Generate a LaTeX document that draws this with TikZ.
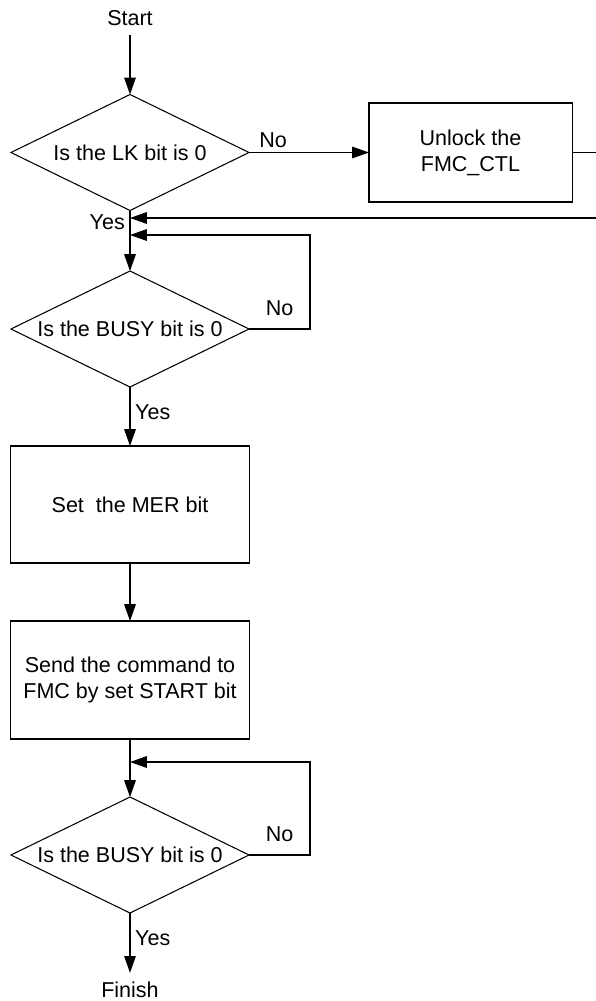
\documentclass[tikz,border=0pt]{standalone}
\usepackage{fontspec}
\setmainfont{Liberation Sans}
\usepackage{tikz}
\usetikzlibrary{arrows.meta, shapes.geometric, positioning}

\begin{document}
\begin{tikzpicture}[x=0.025cm, y=-0.025cm,
  decision/.style={diamond, aspect=2.05, draw=black, line width=0.75pt, inner sep=0pt, outer sep=0pt,
                   minimum width=5.95cm, minimum height=2.9cm, font=\fontsize{15.3pt}{18.5pt}\selectfont},
  box/.style={rectangle, draw=black, line width=0.75pt, outer sep=0pt, align=center,
              minimum width=5.975cm, font=\fontsize{15.3pt}{18.5pt}\selectfont},
  term/.style={inner sep=6.4pt, font=\fontsize{15.3pt}{18.5pt}\selectfont},
  lbl/.style={font=\fontsize{15.3pt}{18.5pt}\selectfont},
  arr/.style={-{Triangle[length=0.42cm, width=0.29cm]}, line width=0.75pt}]

  \useasboundingbox (0,0) rectangle (595,1001);

  \node[term] (start) at (130,18) {Start};

  \node[decision] (lk) at (130,152.5) {Is the LK bit is 0};

  \node[box, minimum width=5.075cm, minimum height=2.475cm] (unlock) at (470.5,152.5)
    {Unlock the\\FMC\_CTL};

  \node[decision] (busy1) at (130,329) {Is the BUSY bit is 0};

  \node[box, minimum height=2.925cm] (mer) at (130,504.5) {Set~ the MER bit};

  \node[box, minimum height=2.95cm] (send) at (130,680)
    {Send the command to\\FMC by set START bit};

  \node[decision] (busy2) at (130,855) {Is the BUSY bit is 0};

  \node[term] (finish) at (130,990) {Finish};

  \coordinate (edge) at (598,0);
  \coordinate (ret)  at (130,218);
  \coordinate (lp1)  at (130,235);
  \coordinate (lp1r) at (310,235);
  \coordinate (lp2)  at (130,762);
  \coordinate (lp2r) at (310,762);

  \draw[arr] (start.south) -- (lk.north);
  \draw[arr] (lk.east) -- node[lbl, pos=0.2, above] {No} (unlock.west);
  \draw[arr] (unlock.east) -- (unlock.east -| edge) |- (ret);
  \draw[arr] (lk.south) -- node[lbl, pos=0.2, left] {Yes} (busy1.north);
  \draw[arr] (busy1.east) -- node[lbl, above=0.2cm] {No} (busy1.east -| lp1r) |- (lp1);
  \draw[arr] (busy1.south) -- node[lbl, pos=0.42, right] {Yes} (mer.north);
  \draw[arr] (mer.south) -- (send.north);
  \draw[arr] (send.south) -- (busy2.north);
  \draw[arr] (busy2.east) -- node[lbl, above=0.2cm] {No} (busy2.east -| lp2r) |- (lp2);
  \draw[arr] (busy2.south) -- node[lbl, pos=0.42, right] {Yes} (finish.north);

\end{tikzpicture}
\end{document}
